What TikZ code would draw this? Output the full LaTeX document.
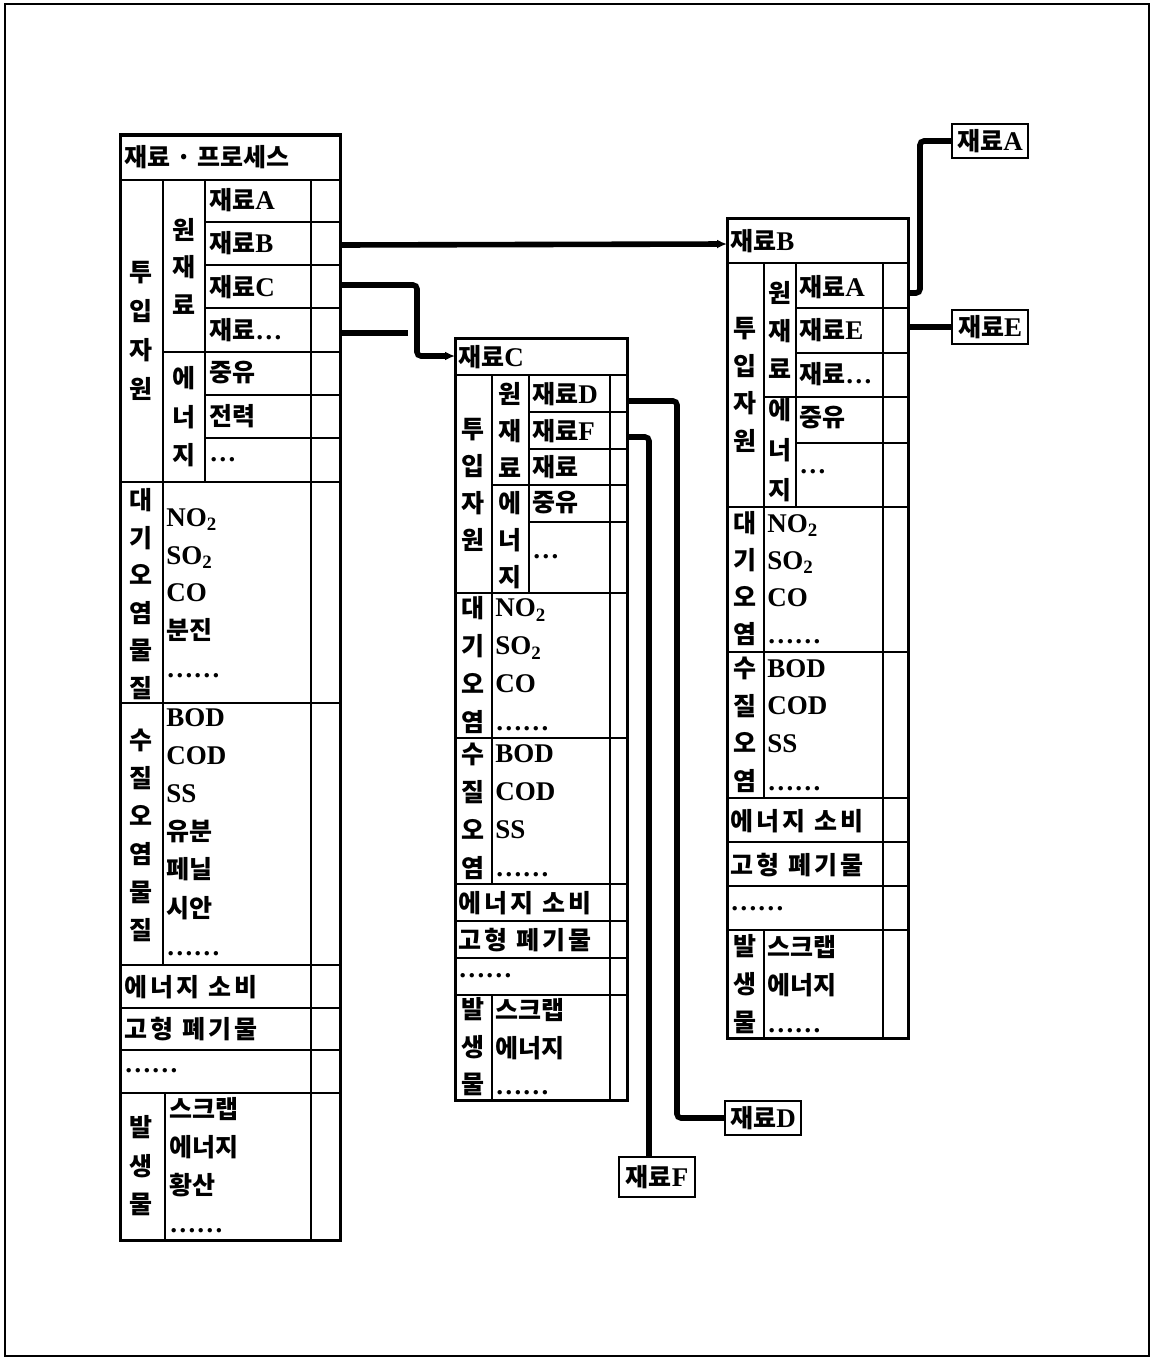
\documentclass[tikz,border=0pt]{standalone}
\usepackage{fontspec}
\setmainfont{Liberation Serif}[Scale=1.08]
\newfontfamily\krfont{Noto Sans CJK KR}
\usetikzlibrary{arrows.meta}
\newcommand{\kor}[1]{{\krfont #1}}
\newcommand{\wide}[1]{{\krfont\addfontfeature{LetterSpace=12}#1}}
\newcommand{\cellsize}{\fontsize{12.5}{15}\selectfont}

\begin{document}
\begin{tikzpicture}[
    x=0.5pt, y=-0.5pt,
    frame/.style={line width=1.5pt},
    sect/.style={line width=1pt},
    rule/.style={line width=0.6pt},
    cell/.style={anchor=west, inner sep=0pt, font=\cellsize\bfseries},
    vcol/.style={align=center, inner sep=0pt, font=\krfont\bfseries\fontsize{12.5}{#1}\selectfont},
    vlist/.style={anchor=west, align=left, inner sep=0pt, font=\bfseries\fontsize{12.5}{#1}\selectfont},
    outbox/.style={draw, line width=1.2pt, inner sep=2pt, minimum width=38pt, minimum height=17pt, font=\cellsize\bfseries},
    link/.style={line width=2.8pt, rounded corners=2pt},
    tip/.style={-{Latex[length=5pt,width=4.5pt]}},
]
    \useasboundingbox (0,0) rectangle (1155,1359);
    \draw [line width=1pt]
        (5,4) rectangle (1149,1356)
        ;

    \draw [frame]
        (120,135) rectangle (340,1240)
        ;
    \draw [sect]
        (120,180) -- (340,180)
        (120,482) -- (340,482)
        (120,703) -- (340,703)
        (120,965) -- (340,965)
        (120,1008) -- (340,1008)
        (120,1050) -- (340,1050)
        (120,1093) -- (340,1093)
        ;
    \draw [rule]
        (163,180) -- (163,965)
        (165,1093) -- (165,1240)
        (205,180) -- (205,482)
        (311,180) -- (311,1240)
        (205,222) -- (340,222)
        (205,265) -- (340,265)
        (205,308) -- (340,308)
        (163,352) -- (340,352)
        (205,395) -- (340,395)
        (205,438) -- (340,438)
        ;

    \node [cell] (t1title) at (124,157) {\kor{재료 · 프로세스}};
    \node [vcol=19.5pt] (t1in) at (141,331) {투\\입\\자\\원};
    \node [vcol=18.75pt] (t1raw) at (184,266) {원\\재\\료};
    \node [vcol=19.25pt] (t1en) at (184,417) {에\\너\\지};
    \node [cell] (t1a) at (209,200) {\kor{재료}A};
    \node [cell] (t1b) at (209,243) {\kor{재료}B};
    \node [cell] (t1c) at (209,287) {\kor{재료}C};
    \node [cell] (t1x) at (209,330) {\kor{재료}…};
    \node [cell] (t1oil) at (209,373) {\kor{중유}};
    \node [cell] (t1pow) at (209,416) {\kor{전력}};
    \node [cell] (t1more) at (209,460) {…};
    \node [vcol=18.8pt] (t1air) at (141,594) {대\\기\\오\\염\\물\\질};
    \node [vlist=18.85pt] (t1airl) at (166,593)
        {NO\textsubscript{2}\\SO\textsubscript{2}\\CO\\\kor{분진}\\……};
    \node [vcol=19pt] (t1wat) at (141,835) {수\\질\\오\\염\\물\\질};
    \node [vlist=19.1pt] (t1watl) at (166,832)
        {BOD\\COD\\SS\\\kor{유분}\\\kor{페닐}\\\kor{시안}\\……};
    \node [cell] (t1use) at (124,987) {\wide{에너지 소비}};
    \node [cell] (t1waste) at (124,1029) {\wide{고형 폐기물}};
    \node [cell] (t1etc) at (124,1071) {……};
    \node [vcol=19.25pt] (t1out) at (141,1166) {발\\생\\물};
    \node [vlist=19pt] (t1outl) at (169,1165)
        {\kor{스크랩}\\\kor{에너지}\\\kor{황산}\\……};

    \draw [frame]
        (455,338) rectangle (627,1100)
        ;
    \draw [sect]
        (455,375) -- (627,375)
        (455,593) -- (627,593)
        (455,738) -- (627,738)
        (455,884) -- (627,884)
        (455,921) -- (627,921)
        (455,958) -- (627,958)
        (455,995) -- (627,995)
        ;
    \draw [rule]
        (492,375) -- (492,884)
        (492,995) -- (492,1100)
        (529,375) -- (529,593)
        (610,375) -- (610,1100)
        (529,412) -- (627,412)
        (529,449) -- (627,449)
        (492,485) -- (627,485)
        (529,522) -- (627,522)
        ;

    \node [cell] (t2title) at (458,357) {\kor{재료}C};
    \node [vcol=18.5pt] (t2in) at (473,485) {투\\입\\자\\원};
    \node [vcol=18.5pt] (t2raw) at (510,430) {원\\재\\료};
    \node [vcol=18.5pt] (t2en) at (510,540) {에\\너\\지};
    \node [cell] (t2d) at (532,394) {\kor{재료}D};
    \node [cell] (t2f) at (532,431) {\kor{재료}F};
    \node [cell] (t2x) at (532,467) {\kor{재료}};
    \node [cell] (t2oil) at (532,503) {\kor{중유}};
    \node [cell] (t2more) at (532,557) {…};
    \node [vcol=19pt] (t2air) at (473,665) {대\\기\\오\\염};
    \node [vlist=19pt] (t2airl) at (495,665)
        {NO\textsubscript{2}\\SO\textsubscript{2}\\CO\\……};
    \node [vcol=19pt] (t2wat) at (473,811) {수\\질\\오\\염};
    \node [vlist=19pt] (t2watl) at (495,811) {BOD\\COD\\SS\\……};
    \node [cell] (t2use) at (458,903) {\wide{에너지 소비}};
    \node [cell] (t2waste) at (458,940) {\wide{고형 폐기물}};
    \node [cell] (t2etc) at (458,976) {……};
    \node [vcol=18.75pt] (t2out) at (473,1047) {발\\생\\물};
    \node [vlist=18.75pt] (t2outl) at (495,1047)
        {\kor{스크랩}\\\kor{에너지}\\……};

    \draw [frame]
        (727,218) rectangle (908,1038)
        ;
    \draw [sect]
        (727,263) -- (908,263)
        (727,507) -- (908,507)
        (727,652) -- (908,652)
        (727,798) -- (908,798)
        (727,842) -- (908,842)
        (727,886) -- (908,886)
        (727,930) -- (908,930)
        ;
    \draw [rule]
        (764,263) -- (764,798)
        (764,930) -- (764,1038)
        (796,263) -- (796,507)
        (883,263) -- (883,1038)
        (796,308) -- (908,308)
        (796,353) -- (908,353)
        (764,397) -- (908,397)
        (796,443) -- (908,443)
        ;

    \node [cell] (t3title) at (730,241) {\kor{재료}B};
    \node [vcol=18.85pt] (t3in) at (745,385) {투\\입\\자\\원};
    \node [vcol=19pt] (t3raw) at (780,330) {원\\재\\료};
    \node [vcol=20pt] (t3en) at (780,450) {에\\너\\지};
    \node [cell] (t3a) at (799,287) {\kor{재료}A};
    \node [cell] (t3e) at (799,330) {\kor{재료}E};
    \node [cell] (t3x) at (799,374) {\kor{재료}…};
    \node [cell] (t3oil) at (799,418) {\kor{중유}};
    \node [cell] (t3more) at (799,472) {…};
    \node [vcol=18.5pt] (t3air) at (745,579) {대\\기\\오\\염};
    \node [vlist=18.5pt] (t3airl) at (767,579)
        {NO\textsubscript{2}\\SO\textsubscript{2}\\CO\\……};
    \node [vcol=18.8pt] (t3wat) at (745,725) {수\\질\\오\\염};
    \node [vlist=18.8pt] (t3watl) at (767,725) {BOD\\COD\\SS\\……};
    \node [cell] (t3use) at (730,821) {\wide{에너지 소비}};
    \node [cell] (t3waste) at (730,865) {\wide{고형 폐기물}};
    \node [cell] (t3etc) at (730,909) {……};
    \node [vcol=19pt] (t3out) at (745,984) {발\\생\\물};
    \node [vlist=19pt] (t3outl) at (767,984)
        {\kor{스크랩}\\\kor{에너지}\\……};

    \node [outbox] (boxA) at (990,141) {\kor{재료}A};
    \node [outbox] (boxE) at (990,327) {\kor{재료}E};
    \node [outbox] (boxD) at (763,1118) {\kor{재료}D};
    \node [outbox, minimum height=20pt] (boxF) at (657,1177) {\kor{재료}F};

    \coordinate (t1B) at (340,245);
    \coordinate (t1C) at (340,285);
    \coordinate (t1X) at (340,333);
    \coordinate (t1Xend) at (408,333);
    \coordinate (t2port) at (455,356);
    \coordinate (t3port) at (727,244);
    \coordinate (t2D) at (627,401);
    \coordinate (t2F) at (627,437);
    \coordinate (t3A) at (908,293);
    \coordinate (t3E) at (908,327);

    \draw [link, tip]
        (t1B) -- (t3port)
        ;
    \draw [link, tip]
        (t1C) -- ++(77,0) |- (t2port)
        ;
    \draw [link]
        (t1X) -- (t1Xend)
        ;
    \draw [link]
        (t2D) -- ++(50,0) |- (boxD)
        ;
    \draw [link]
        (t2F) -| ([xshift=-4pt]boxF.north)
        ;
    \draw [link]
        (t3A) -- ++(12,0) |- (boxA)
        ;
    \draw [link]
        (t3E) -- (boxE)
        ;
\end{tikzpicture}
\end{document}
